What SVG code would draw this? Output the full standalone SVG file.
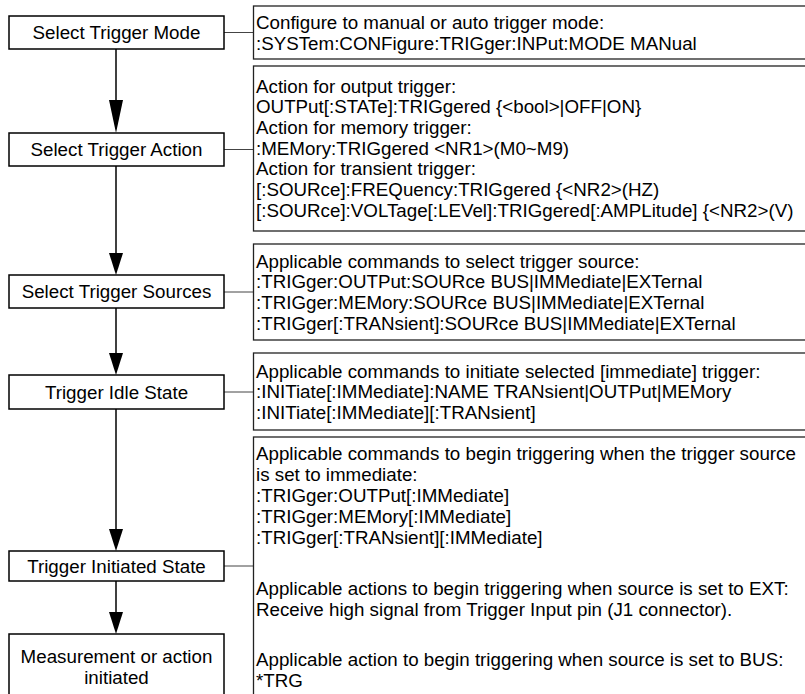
<svg xmlns="http://www.w3.org/2000/svg" width="805" height="694" viewBox="0 0 805 694">
<style>
  .node { fill: #ffffff; stroke: #000000; stroke-width: 1.5; }
  .note { fill: #ffffff; stroke: #222222; stroke-width: 1.3; }
  .t { font-family: "Liberation Sans", Arial, sans-serif; font-size: 18.75px; fill: #000000; }
  .c { text-anchor: middle; }
  .flow { stroke: #000000; stroke-width: 1.5; fill: none; }
  .link { stroke: #444444; stroke-width: 1; fill: none; }
  .head { fill: #000000; stroke: none; }
</style>
<rect width="805" height="694" fill="#ffffff"/>

<g id="connectors">
  <line class="flow" x1="116" y1="49" x2="116" y2="101"/>
  <polygon class="head" points="109,100 123,100 116,133"/>
  <line class="flow" x1="116" y1="166" x2="116" y2="254"/>
  <polygon class="head" points="109,253 123,253 116,275"/>
  <line class="flow" x1="116" y1="308" x2="116" y2="354"/>
  <polygon class="head" points="109,353 123,353 116,375"/>
  <line class="flow" x1="116" y1="409" x2="116" y2="530"/>
  <polygon class="head" points="109,529 123,529 116,551"/>
  <line class="flow" x1="116" y1="581" x2="116" y2="613"/>
  <polygon class="head" points="109,612 123,612 116,634"/>
  <line class="link" x1="224" y1="32.5" x2="253.5" y2="32.5"/>
  <line class="link" x1="224" y1="149.5" x2="253.5" y2="149.5"/>
  <line class="link" x1="224" y1="292" x2="253.5" y2="292"/>
  <line class="link" x1="224" y1="392" x2="253.5" y2="392"/>
  <line class="link" x1="224" y1="566" x2="253.5" y2="566"/>
</g>

<g id="select-trigger-mode">
  <rect class="node" x="9" y="16" width="215" height="33"/>
  <text class="t c" x="116.5" y="39">Select Trigger Mode</text>
</g>
<g id="select-trigger-action">
  <rect class="node" x="9" y="133" width="215" height="33"/>
  <text class="t c" x="116.5" y="156">Select Trigger Action</text>
</g>
<g id="select-trigger-sources">
  <rect class="node" x="9" y="275" width="215" height="33"/>
  <text class="t c" x="116.5" y="298">Select Trigger Sources</text>
</g>
<g id="trigger-idle-state">
  <rect class="node" x="9" y="375" width="215" height="34"/>
  <text class="t c" x="116.5" y="398.5">Trigger Idle State</text>
</g>
<g id="trigger-initiated-state">
  <rect class="node" x="9" y="551" width="215" height="30"/>
  <text class="t c" x="116.5" y="572.5">Trigger Initiated State</text>
</g>
<g id="measurement-initiated">
  <rect class="node" x="9" y="634" width="215" height="80"/>
  <text class="t c" x="116.5" y="662.5">Measurement or action</text>
  <text class="t c" x="116.5" y="683.5">initiated</text>
</g>

<g id="note-mode">
  <rect class="note" x="253.5" y="6" width="600" height="53"/>
  <text class="t" x="256" y="29">Configure to manual or auto trigger mode:</text>
  <text class="t" x="256" y="49.5">:SYSTem:CONFigure:TRIGger:INPut:MODE MANual</text>
</g>
<g id="note-action">
  <rect class="note" x="253.5" y="66" width="600" height="165"/>
  <text class="t" x="256" y="92.5">Action for output trigger:</text>
  <text class="t" x="256" y="113.2">OUTPut[:STATe]:TRIGgered {&lt;bool&gt;|OFF|ON}</text>
  <text class="t" x="256" y="133.9">Action for memory trigger:</text>
  <text class="t" x="256" y="154.6">:MEMory:TRIGgered &lt;NR1&gt;(M0~M9)</text>
  <text class="t" x="256" y="175.3">Action for transient trigger:</text>
  <text class="t" x="256" y="196">[:SOURce]:FREQuency:TRIGgered {&lt;NR2&gt;(HZ)</text>
  <text class="t" x="256" y="216.7">[:SOURce]:VOLTage[:LEVel]:TRIGgered[:AMPLitude] {&lt;NR2&gt;(V)</text>
</g>
<g id="note-sources">
  <rect class="note" x="253.5" y="244" width="600" height="96"/>
  <text class="t" x="256" y="267.5">Applicable commands to select trigger source:</text>
  <text class="t" x="256" y="288.2">:TRIGger:OUTPut:SOURce BUS|IMMediate|EXTernal</text>
  <text class="t" x="256" y="308.9">:TRIGger:MEMory:SOURce BUS|IMMediate|EXTernal</text>
  <text class="t" x="256" y="329.6">:TRIGger[:TRANsient]:SOURce BUS|IMMediate|EXTernal</text>
</g>
<g id="note-idle">
  <rect class="note" x="253.5" y="353" width="600" height="77"/>
  <text class="t" x="256" y="377.5">Applicable commands to initiate selected [immediate] trigger:</text>
  <text class="t" x="256" y="398.2">:INITiate[:IMMediate]:NAME TRANsient|OUTPut|MEMory</text>
  <text class="t" x="256" y="418.9">:INITiate[:IMMediate][:TRANsient]</text>
</g>
<g id="note-initiated">
  <rect class="note" x="253.5" y="437" width="600" height="300"/>
  <text class="t" x="256" y="459.5">Applicable commands to begin triggering when the trigger source</text>
  <text class="t" x="256" y="480.5">is set to immediate:</text>
  <text class="t" x="256" y="501.5">:TRIGger:OUTPut[:IMMediate]</text>
  <text class="t" x="256" y="522.5">:TRIGger:MEMory[:IMMediate]</text>
  <text class="t" x="256" y="543.5">:TRIGger[:TRANsient][:IMMediate]</text>
  <text class="t" x="256" y="594.5">Applicable actions to begin triggering when source is set to EXT:</text>
  <text class="t" x="256" y="615.5">Receive high signal from Trigger Input pin (J1 connector).</text>
  <text class="t" x="256" y="665.5">Applicable action to begin triggering when source is set to BUS:</text>
  <text class="t" x="256" y="686.5">*TRG</text>
</g>
</svg>
